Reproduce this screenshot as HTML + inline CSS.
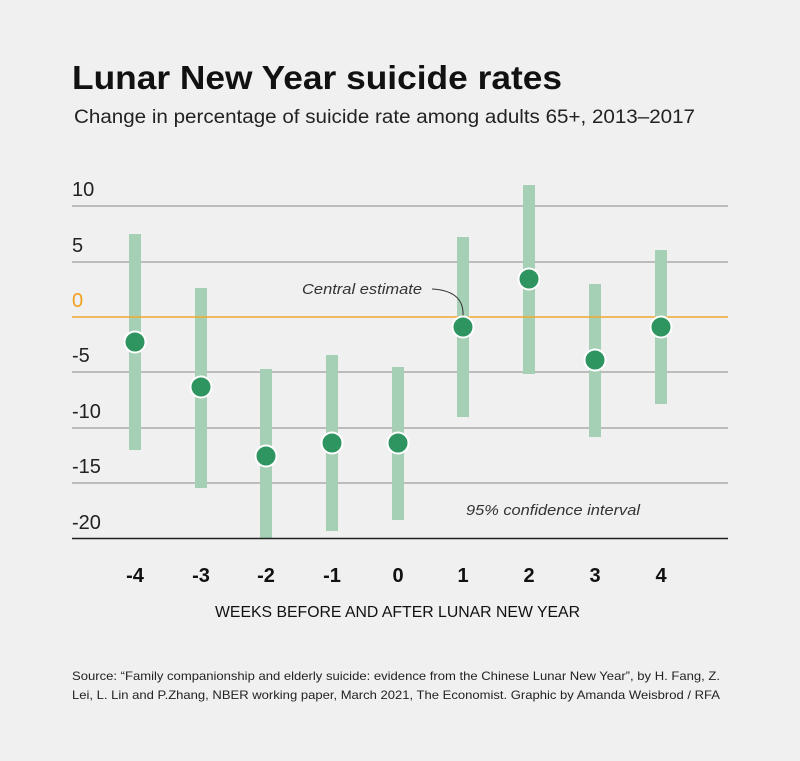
<!DOCTYPE html>
<html><head><meta charset="utf-8"><style>
body{margin:0;background:#f0f0f0;}
svg{display:block;font-family:"Liberation Sans",sans-serif;}
</style></head><body>
<svg width="800" height="761" viewBox="0 0 800 761">
<rect width="800" height="761" fill="#f0f0f0"/>
<text x="72" y="89" font-size="33" font-weight="bold" fill="#111" textLength="490" lengthAdjust="spacingAndGlyphs">Lunar New Year suicide rates</text>
<text x="74" y="123" font-size="19" fill="#222" textLength="621" lengthAdjust="spacingAndGlyphs">Change in percentage of suicide rate among adults 65+, 2013–2017</text>
<g stroke="#888" stroke-width="1">
<line x1="72" x2="728" y1="206" y2="206"/>
<line x1="72" x2="728" y1="262" y2="262"/>
<line x1="72" x2="728" y1="372" y2="372"/>
<line x1="72" x2="728" y1="428" y2="428"/>
<line x1="72" x2="728" y1="483" y2="483"/>
</g>
<g font-size="20" fill="#222">
<text x="72" y="196">10</text>
<text x="72" y="252">5</text>
<text x="72" y="362">-5</text>
<text x="72" y="418">-10</text>
<text x="72" y="473">-15</text>
<text x="72" y="529">-20</text>
</g>
<text x="72" y="307" font-size="20" fill="#f0a020">0</text>
<g fill="#a6d0b6">
<rect x="129" y="234" width="12" height="216"/>
<rect x="195" y="288" width="12" height="200"/>
<rect x="260" y="369" width="12" height="169"/>
<rect x="326" y="355" width="12" height="176"/>
<rect x="392" y="367" width="12" height="153"/>
<rect x="457" y="237" width="12" height="180"/>
<rect x="523" y="185" width="12" height="189"/>
<rect x="589" y="284" width="12" height="153"/>
<rect x="655" y="250" width="12" height="154"/>
</g>
<line x1="72" x2="728" y1="317" y2="317" stroke="#f0a830" stroke-width="1.5"/>
<line x1="72" x2="728" y1="538.5" y2="538.5" stroke="#222" stroke-width="1.5"/>
<path d="M432 289 C452 290 464 298 463 316" fill="none" stroke="#333" stroke-width="1"/>
<text x="302" y="294" font-size="15" font-style="italic" fill="#333" textLength="120" lengthAdjust="spacingAndGlyphs">Central estimate</text>
<text x="466" y="515" font-size="15" font-style="italic" fill="#333" textLength="174" lengthAdjust="spacingAndGlyphs">95% confidence interval</text>
<g fill="#2e9460" stroke="#fff" stroke-width="2">
<circle cx="135" cy="342" r="10.5"/>
<circle cx="201" cy="387" r="10.5"/>
<circle cx="266" cy="456" r="10.5"/>
<circle cx="332" cy="443" r="10.5"/>
<circle cx="398" cy="443" r="10.5"/>
<circle cx="463" cy="327" r="10.5"/>
<circle cx="529" cy="279" r="10.5"/>
<circle cx="595" cy="360" r="10.5"/>
<circle cx="661" cy="327" r="10.5"/>
</g>
<g font-size="20" font-weight="bold" fill="#111" text-anchor="middle">
<text x="135" y="582">-4</text><text x="201" y="582">-3</text><text x="266" y="582">-2</text>
<text x="332" y="582">-1</text><text x="398" y="582">0</text><text x="463" y="582">1</text>
<text x="529" y="582">2</text><text x="595" y="582">3</text><text x="661" y="582">4</text>
</g>
<text x="215" y="617" font-size="16" fill="#111" textLength="365" lengthAdjust="spacingAndGlyphs">WEEKS BEFORE AND AFTER LUNAR NEW YEAR</text>
<text x="72" y="680" font-size="12" fill="#222" textLength="648" lengthAdjust="spacingAndGlyphs">Source: “Family companionship and elderly suicide: evidence from the Chinese Lunar New Year”, by H. Fang, Z.</text>
<text x="72" y="699" font-size="12" fill="#222" textLength="648" lengthAdjust="spacingAndGlyphs">Lei, L. Lin and P.Zhang, NBER working paper, March 2021, The Economist. Graphic by Amanda Weisbrod / RFA</text>
</svg>
</body></html>
